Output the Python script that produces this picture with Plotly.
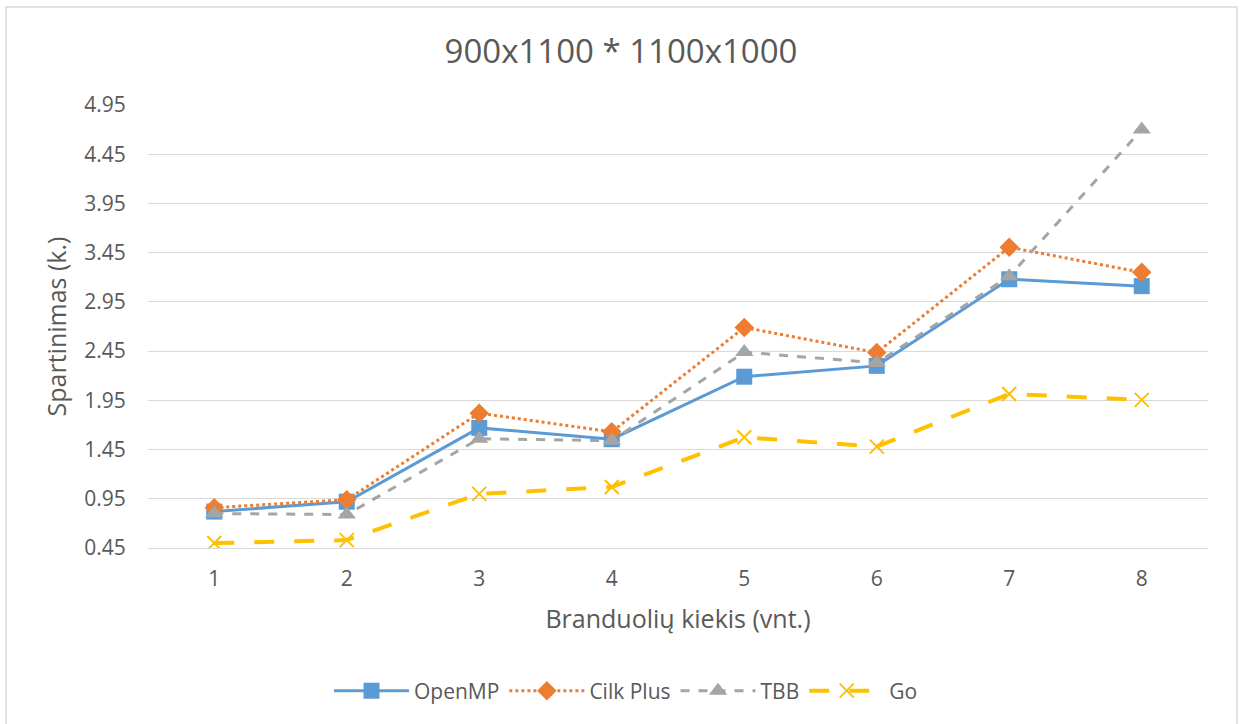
import plotly.graph_objects as go

cores = [1, 2, 3, 4, 5, 6, 7, 8]
openmp = [0.82, 0.92, 1.67, 1.555, 2.19, 2.30, 3.18, 3.11]
cilk = [0.86, 0.94, 1.82, 1.63, 2.69, 2.435, 3.505, 3.25]
tbb = [0.80, 0.79, 1.56, 1.54, 2.44, 2.33, 3.21, 4.70]
golang = [0.50, 0.53, 1.00, 1.07, 1.575, 1.48, 2.015, 1.955]
ytick_vals = [0.45, 0.95, 1.45, 1.95, 2.45, 2.95, 3.45, 3.95, 4.45, 4.95]

FONT = "Open Sans"
TXT = "#595959"

fig = go.Figure()
fig.add_trace(go.Scatter(x=cores, y=openmp, name="OpenMP", mode="lines+markers",
                         line=dict(color="#5B9BD5", width=3),
                         marker=dict(symbol="square", size=16, color="#5B9BD5")))
fig.add_trace(go.Scatter(x=cores, y=cilk, name="Cilk Plus", mode="lines+markers",
                         line=dict(color="#ED7D31", width=3, dash="dot"),
                         marker=dict(symbol="diamond", size=15, color="#ED7D31")))
fig.add_trace(go.Scatter(x=cores, y=tbb, name="TBB", mode="lines+markers",
                         line=dict(color="#A5A5A5", width=3, dash="dash"),
                         marker=dict(symbol="triangle-up", size=16, color="#A5A5A5")))
fig.add_trace(go.Scatter(x=cores, y=golang, name="Go", mode="lines+markers",
                         line=dict(color="#FFC000", width=4, dash="longdash"),
                         marker=dict(symbol="x-thin", size=14, color="#FFC000",
                                     line=dict(color="#FFC000", width=2))))

# chart area border
L, R, T, B = 148, 1208, 105, 548
W, H = R - L, B - T
fig.add_shape(type="rect", xref="paper", yref="paper",
              x0=(6 - L) / W, x1=(1237 - L) / W,
              y0=(B - 730) / H, y1=(B - 7) / H,
              line=dict(color="#D9D9D9", width=1.5), fillcolor="rgba(0,0,0,0)", layer="below")

fig.update_layout(
    width=1241, height=724,
    margin=dict(l=L, r=1241 - R, t=T, b=724 - B),
    paper_bgcolor="white", plot_bgcolor="white",
    font=dict(family=FONT, color=TXT, size=21),
    title=dict(text="900x1100 * 1100x1000", x=621 / 1241, xanchor="center",
               y=1 - 51 / 724, yanchor="middle", font=dict(size=33, color=TXT, family=FONT)),
    showlegend=True,
    legend=dict(orientation="h", x=(626 - L) / W, xanchor="center",
                y=(B - 691) / H, yanchor="middle",
                font=dict(size=21, color=TXT, family=FONT),
                itemwidth=75, traceorder="normal"),
    xaxis=dict(range=[0.5, 8.5], tickvals=cores, showgrid=False, zeroline=False,
               showline=True, linecolor="#D9D9D9", linewidth=1,
               ticks="outside", ticklen=12, tickcolor="rgba(0,0,0,0)",
               tickfont=dict(size=21, color=TXT),
               title=dict(text="Branduolių kiekis (vnt.)", font=dict(size=25, color=TXT), standoff=19)),
    yaxis=dict(range=[0.45, 4.95], tickvals=ytick_vals, tickformat=".2f",
               showgrid=True, gridcolor="#D9D9D9", gridwidth=1, zeroline=False,
               ticks="outside", ticklen=17, tickcolor="rgba(0,0,0,0)",
               tickfont=dict(size=21, color=TXT),
               title=dict(text="Spartinimas (k.)", font=dict(size=25, color=TXT), standoff=10)),
)

fig.write_html("out.html")
